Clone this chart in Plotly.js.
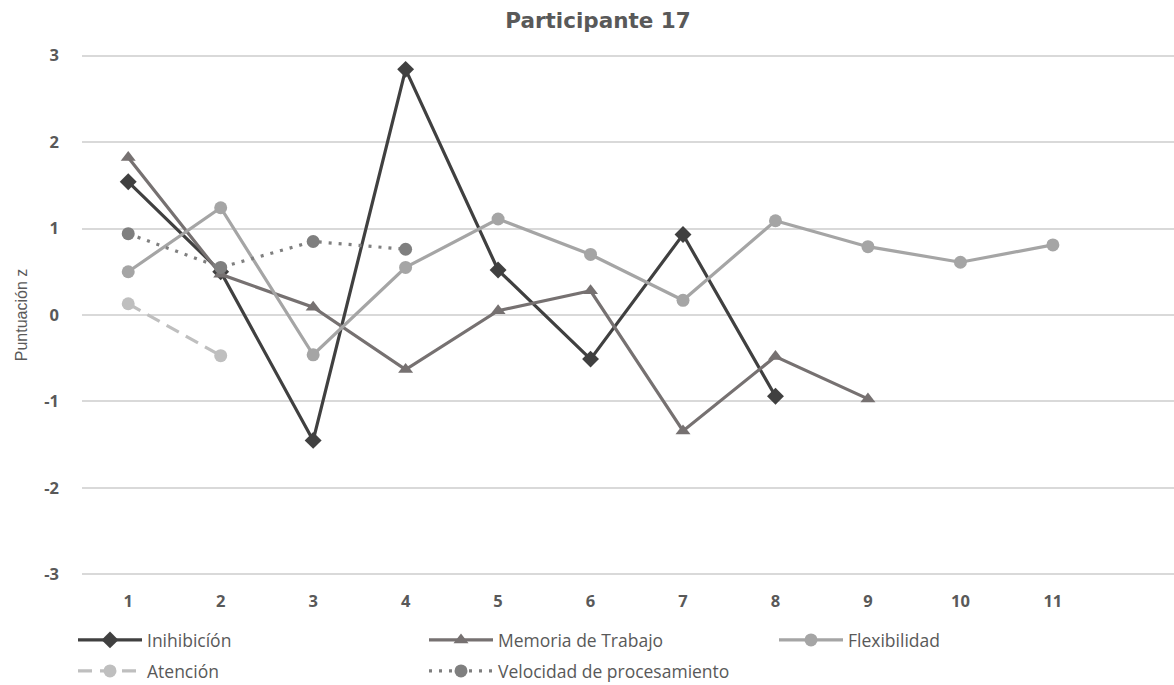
<!DOCTYPE html>
<html>
<head>
<meta charset="utf-8">
<script src="https://cdn.plot.ly/plotly-3.0.1.min.js"></script>
<style>html,body{margin:0;padding:0;background:#fff;}#chart{width:1174px;height:685px;}</style>
</head>
<body>
<div id="chart"></div>
<script>
const categories = [1, 2, 3, 4, 5, 6, 7, 8, 9, 10, 11];
const tickLabels = ['1','2','3','4','5','6','7','8','9','10','11'];
const inhibicion = [1.54, 0.50, -1.45, 2.84, 0.52, -0.51, 0.93, -0.94];
const memoria = [1.82, 0.47, 0.09, -0.63, 0.05, 0.28, -1.34, -0.48, -0.97];
const flexibilidad = [0.50, 1.24, -0.46, 0.55, 1.11, 0.70, 0.17, 1.09, 0.79, 0.61, 0.81];
const atencion = [0.13, -0.47];
const velocidad = [0.94, 0.55, 0.85, 0.76];
const seriesNames = ['Inihibicíón', 'Memoria de Trabajo', 'Flexibilidad', 'Atención', 'Velocidad de procesamiento'];

const legendFont = {family: 'Open Sans, Noto Sans, sans-serif', size: 17.5, color: '#595959'};
function mk(vals, name, color, symbol, msize, dash, legendId) {
  return {
    x: categories.slice(0, vals.length), y: vals, name: name, type: 'scatter', mode: 'lines+markers',
    line: {color: color, width: 3.2, dash: dash}, marker: {color: color, symbol: symbol, size: msize},
    legend: legendId
  };
}
const traces = [
  mk(inhibicion, seriesNames[0], '#404040', 'diamond', 13, 'solid', 'legend'),
  mk(memoria, seriesNames[1], '#767171', 'triangle-up', 13, 'solid', 'legend2'),
  mk(flexibilidad, seriesNames[2], '#a5a5a5', 'circle', 13, 'solid', 'legend3'),
  mk(atencion, seriesNames[3], '#bfbfbf', 'circle', 13, '14px,8px', 'legend4'),
  mk(velocidad, seriesNames[4], '#7f7f7f', 'circle', 13, '3px,7px', 'legend5')
];

const plotLeft = 82, plotW = 1092, plotTop = 50, plotH = 530;
function px2x(px) { return (px - plotLeft) / plotW; }
function py2y(py) { return (plotTop + plotH - py) / plotH; }
function leg(px, py) {
  return {x: px2x(px), y: py2y(py), xanchor: 'left', yanchor: 'middle', orientation: 'v',
    font: legendFont, bgcolor: 'rgba(0,0,0,0)', borderwidth: 0, itemwidth: 64};
}

const layout = {
  width: 1174, height: 685,
  margin: {l: plotLeft, r: 0, t: plotTop, b: 685 - plotTop - plotH, autoexpand: false},
  paper_bgcolor: '#ffffff', plot_bgcolor: '#ffffff',
  title: {text: '<b>Participante 17</b>', x: 598/1174, xref: 'container', y: 1 - 20/685, yref: 'container', yanchor: 'middle',
    font: {family: 'DejaVu Sans, Liberation Sans, Arial, sans-serif', size: 21.5, color: '#595959'}},
  xaxis: {range: [0.5, 12.31], tickvals: categories, ticktext: tickLabels, showgrid: false, zeroline: false,
    showline: false, ticks: '', ticklabelstandoff: 9, automargin: false,
    tickfont: {family: 'Open Sans, sans-serif', size: 16.5, color: '#595959', weight: 'bold'}},
  yaxis: {range: [-3.064, 3.064], tickvals: [-3, -2, -1, 0, 1, 2, 3], ticktext: ['-3','-2','-1','0','1','2','3'],
    showgrid: true, gridcolor: '#d9d9d9', gridwidth: 2, zeroline: false, showline: false, ticks: '',
    ticklabelstandoff: 22, automargin: false,
    tickfont: {family: 'Open Sans, sans-serif', size: 16.5, color: '#595959', weight: 'bold'},
    title: {text: 'Puntuación z', standoff: 12, font: {family: 'Liberation Sans Narrow, Liberation Sans, Arial, sans-serif', size: 16, color: '#595959'}}},
  showlegend: true,
  legend: leg(73, 640),
  legend2: leg(424, 640),
  legend3: leg(774, 640),
  legend4: leg(73, 671),
  legend5: leg(424, 671)
};

Plotly.newPlot('chart', traces, layout, {displayModeBar: false, staticPlot: true});
</script>
</body>
</html>
